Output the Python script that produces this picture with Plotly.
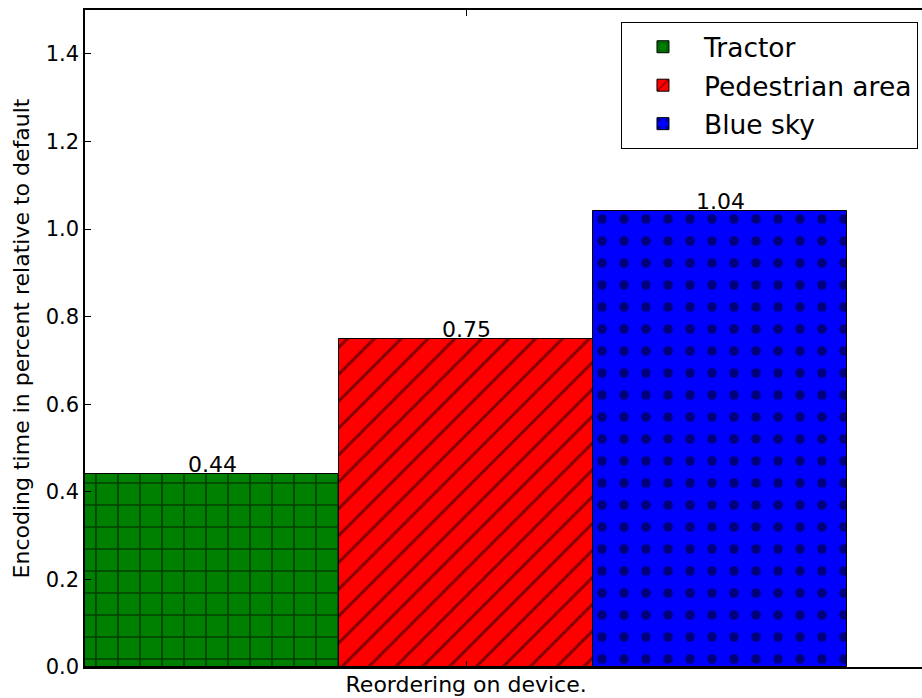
import plotly.graph_objects as go

categories = ["Reordering on device."]
series_names = ["Tractor", "Pedestrian area", "Blue sky"]
tractor_vals = [0.44]
pedestrian_vals = [0.75]
bluesky_vals = [1.04]
series_values = [tractor_vals, pedestrian_vals, bluesky_vals]
colors = ["#008000", "#ff0000", "#0000ff"]
patterns = ["+", "/", "."]
pattern_sizes = [22, 19, 22]
y_ticks = [0.0, 0.2, 0.4, 0.6, 0.8, 1.0, 1.2, 1.4]

FONT = "DejaVu Sans, sans-serif"
n = len(series_names)

fig = go.Figure()
for i, (name, vals, col, pat, ps) in enumerate(zip(series_names, series_values, colors, patterns, pattern_sizes)):
    fig.add_trace(go.Bar(
        x=categories, y=vals, name=name, legendgroup=name,
        marker=dict(color=col, line=dict(color="black", width=1),
                    pattern=dict(shape=pat, fgcolor="black", size=ps, solidity=0.15)),
    ))
    for j, v in enumerate(vals):
        fig.add_annotation(x=j + (i - (n - 1) / 2) / n, y=v, xref="x", yref="y",
                           text=f"{v:.2f}", showarrow=False, yanchor="bottom", yshift=-5,
                           font=dict(family=FONT, size=22, color="black"))

fig.update_layout(
    width=922, height=698,
    margin=dict(l=85, r=0, t=10, b=31, autoexpand=False),
    paper_bgcolor="white", plot_bgcolor="white",
    barmode="group", bargap=0, bargroupgap=0,
    font=dict(family=FONT, size=21, color="black"),
    showlegend=True,
    legend=dict(x=0.9952, xanchor="right", y=0.9817, yanchor="top",
                bordercolor="black", borderwidth=1, bgcolor="white",
                font=dict(family=FONT, size=26.5, color="black"),
                itemwidth=72, traceorder="grouped", tracegroupgap=1),
)
fig.update_xaxes(range=[-0.5, 0.598], showline=True, linecolor="black", linewidth=1.5,
                 mirror="ticks", ticks="inside", ticklen=6, tickcolor="black",
                 showgrid=False, zeroline=False, tickfont=dict(size=22),
                 ticklabelstandoff=-3)
fig.update_yaxes(range=[0, 1.5], showline=True, linecolor="black", linewidth=1.5,
                 ticks="inside", ticklen=6, tickcolor="black",
                 tickvals=y_ticks, tickformat=".1f", showgrid=False, zeroline=False,
                 tickfont=dict(size=21),
                 title=dict(text="Encoding time in percent relative to default",
                            font=dict(size=22), standoff=10))

fig.write_html("out.html", config={"displayModeBar": False},
               post_script="document.body.style.margin='0';document.body.style.overflow='hidden';")
